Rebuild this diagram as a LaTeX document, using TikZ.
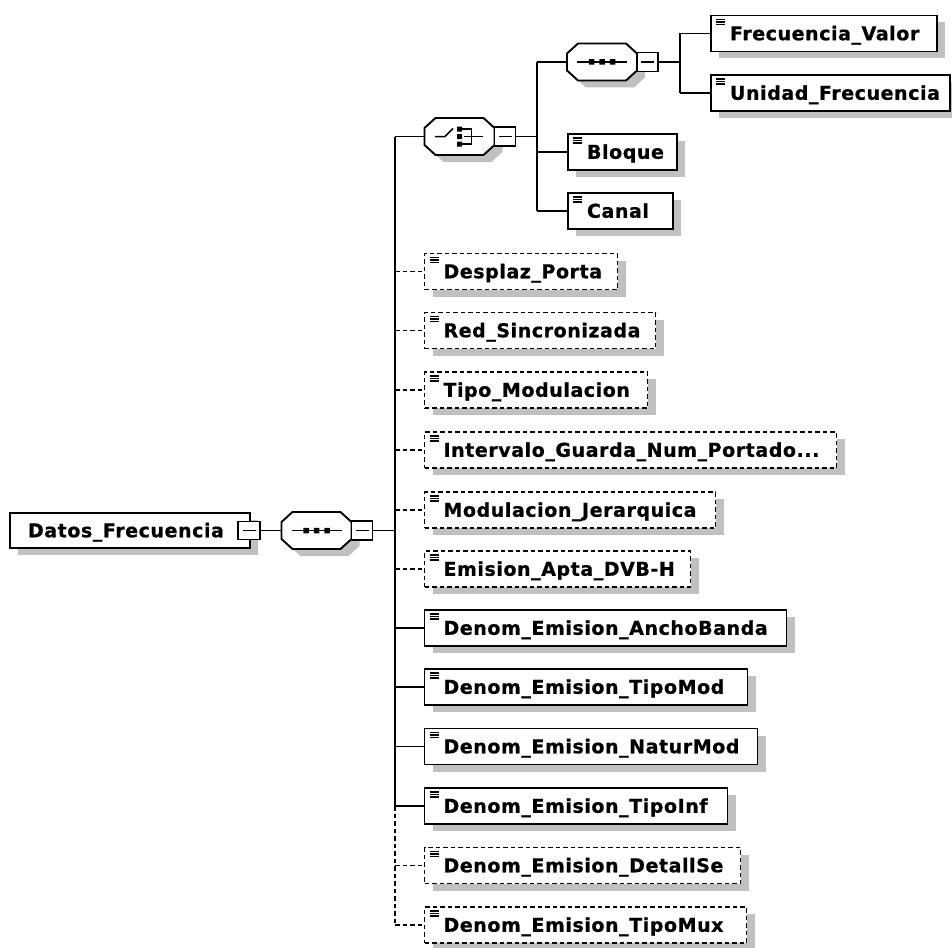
\documentclass[tikz,border=0pt]{standalone}
\usepackage{fontspec}
\setmainfont{DejaVu Sans}
\newfontfamily\lblfont[LetterSpace=3, FakeBold=0.8]{DejaVu Sans Bold}
\usetikzlibrary{shadows}
\definecolor{shadowgray}{HTML}{C0C0C0}
\tikzset{
  every node/.style={inner sep=0pt, outer sep=0pt},
  shadowed/.style={general shadow={fill=shadowgray, shadow xshift=8pt, shadow yshift=-7pt}},
  elembase/.style={rectangle, draw=black, line width=1.9pt, fill=white, shadowed,
    minimum height=36pt, text height=13.5pt, text depth=0pt,
    font=\lblfont\fontsize{19pt}{21pt}\selectfont},
  solidbox/.style={elembase},
  dashbox/.style={elembase, dash pattern=on 4.5pt off 3pt},
  conn/.style={line width=1.9pt},
  optconn/.style={conn, dash pattern=on 4.5pt off 3pt},
  minusbox/.style={rectangle, draw=black, line width=1.9pt, fill=white, minimum width=21pt, minimum height=19pt},
  octa/.style={rectangle, minimum width=70pt, minimum height=37pt},
  iconline/.style={line width=1.2pt},
}
% element box: name, x-left, y-centre, width, style, text
\newcommand\xelem[6]{%
  \node[#5, anchor=west, minimum width=#4pt] (#1) at (#2,#3) {\makebox[#4pt][l]{\hspace{19pt}#6}};
  \foreach \dd in {4,6.5,9} \draw[iconline] ([shift={(5pt,-\dd pt)}]#1.north west) -- ++(9,0);
}
% octagon drawn around an (invisible) node
\newcommand\xocta[1]{%
  \fill[shadowgray, shift={(#1.center)}, xshift=8pt, yshift=-7pt]
    (-24,-18.5) -- (24,-18.5) -- (35,-8.5) -- (35,8.5) -- (24,18.5) -- (-24,18.5) -- (-35,8.5) -- (-35,-8.5) -- cycle;
  \filldraw[fill=white, draw=black, line width=1.9pt, shift={(#1.center)}]
    (-24,-18.5) -- (24,-18.5) -- (35,-8.5) -- (35,8.5) -- (24,18.5) -- (-24,18.5) -- (-35,8.5) -- (-35,-8.5) -- cycle;
}
\newcommand\xseqicon[1]{%
  \draw[line width=1.5pt, shift={(#1.center)}] (-25,0) -- (25,0);
  \fill[shift={(#1.center)}] (-13.25,-2.75) rectangle (-7.75,2.75) (-2.75,-2.75) rectangle (2.75,2.75) (7.75,-2.75) rectangle (13.25,2.75);
}
\newcommand\xchoiceicon[1]{%
  \draw[line width=1.5pt, shift={(#1.center)}] (-24.5,0) -- (-14.5,0) -- (-6.5,-8);
  \fill[shift={(#1.center)}] (-2.5,-10) rectangle (2.5,-5) (-2.5,-2.5) rectangle (2.5,2.5) (-2.5,5) rectangle (2.5,10);
  \draw[line width=1.5pt, shift={(#1.center)}] (2.5,-7.5) -- (12,-7.5) -- (12,7.5) -- (2.5,7.5) (4,0) -- (23.5,0);
}
\newcommand\xminus[1]{%
  \draw[line width=1.5pt] ([xshift=-6.5pt]#1.center) -- ([xshift=6.5pt]#1.center);
}
\begin{document}
\begin{tikzpicture}[x=1pt, y=-1pt]
\useasboundingbox (0,0) rectangle (952,947);

% root
\node[solidbox, anchor=west, minimum width=240pt, minimum height=35pt] (root) at (10,530.5)
  {\makebox[240pt][l]{\hspace{18pt}Datos\_Frecuencia}};
\node[minusbox, minimum width=22pt, minimum height=18pt] (rootm) at (249,530.5) {};
\xminus{rootm}

% main sequence
\node[octa] (seq1) at (316.5,530.5) {};
\xocta{seq1}
\xseqicon{seq1}
\node[minusbox, anchor=west] (seq1m) at (seq1.east) {};
\xminus{seq1m}
\coordinate (T) at (395,530.5);
\draw[conn] (rootm.east) -- (seq1.west);
\draw[conn] (seq1m.east) -- (T);

% choice
\node[octa] (choice) at (459.5,136.5) {};
\xocta{choice}
\xchoiceicon{choice}
\node[minusbox, anchor=west] (choicem) at (choice.east) {};
\xminus{choicem}
\coordinate (C) at (537,136.5);

% inner sequence
\node[octa] (seq2) at (602,62) {};
\xocta{seq2}
\xseqicon{seq2}
\node[minusbox, anchor=west] (seq2m) at (seq2.east) {};
\xminus{seq2m}
\coordinate (F) at (680,62);

% elements
\xelem{fval}{711}{33.5}{226}{solidbox}{Frecuencia\_Valor}
\xelem{unid}{711}{93}{239}{solidbox}{Unidad\_Frecuencia}
\xelem{bloque}{568}{152}{109}{solidbox}{Bloque}
\xelem{canal}{568}{211}{105}{solidbox}{Canal}

\xelem{desplaz}{424.5}{271.5}{193}{dashbox}{Desplaz\_Porta}
\xelem{red}{424.5}{330.5}{231}{dashbox}{Red\_Sincronizada}
\xelem{tipomodul}{424.5}{390}{223}{dashbox}{Tipo\_Modulacion}
\xelem{interv}{424.5}{450}{412}{dashbox}{Intervalo\_Guarda\_Num\_Portado...}
\xelem{modjer}{424.5}{510}{291}{dashbox}{Modulacion\_Jerarquica}
\xelem{emision}{424.5}{569}{266}{dashbox}{Emision\_Apta\_DVB-H}
\xelem{ancho}{424.5}{628}{362}{solidbox}{Denom\_Emision\_AnchoBanda}
\xelem{tipomod}{424.5}{687}{323}{solidbox}{Denom\_Emision\_TipoMod}
\xelem{natur}{424.5}{746.5}{333}{solidbox}{Denom\_Emision\_NaturMod}
\xelem{tipoinf}{424.5}{806}{303}{solidbox}{Denom\_Emision\_TipoInf}
\xelem{detall}{424.5}{865.5}{316}{dashbox}{Denom\_Emision\_DetallSe}
\xelem{tipomux}{424.5}{925}{322}{dashbox}{Denom\_Emision\_TipoMux}

% trunk
\draw[conn] (T |- choice.west) -- (T |- tipoinf.west);
\draw[optconn] (T |- tipoinf.west) -- (T |- tipomux.west);
\draw[conn] (T |- choice.west) -- (choice.west);
\foreach \n in {desplaz,red,tipomodul,interv,modjer,emision,detall,tipomux}
  \draw[optconn] (T |- \n.west) -- (\n.west);
\foreach \n in {ancho,tipomod,natur,tipoinf}
  \draw[conn] (T |- \n.west) -- (\n.west);

% choice branches
\draw[conn] (choicem.east) -- (C);
\draw[conn] (C |- seq2.west) -- (C |- canal.west);
\draw[conn] (C |- seq2.west) -- (seq2.west);
\draw[conn] (C |- bloque.west) -- (bloque.west);
\draw[conn] (C |- canal.west) -- (canal.west);

% inner sequence branches
\draw[conn] (seq2m.east) -- (F);
\draw[conn] (F |- fval.west) -- (F |- unid.west);
\draw[conn] (F |- fval.west) -- (fval.west);
\draw[conn] (F |- unid.west) -- (unid.west);
\end{tikzpicture}
\end{document}
